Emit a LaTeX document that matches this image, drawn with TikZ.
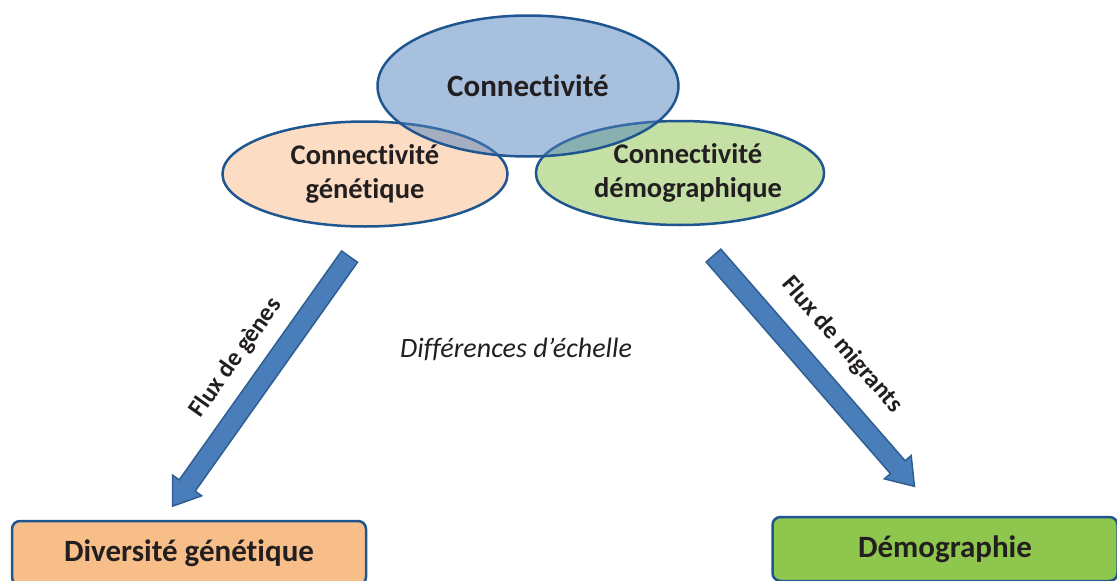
\documentclass[tikz,border=0pt]{standalone}
\usepackage{fontspec}
\setmainfont{Carlito}[Ligatures=NoCommon]
\usetikzlibrary{shapes.geometric, shapes.arrows}
\definecolor{CBorder}{HTML}{1F5690}
\definecolor{CText}{HTML}{231F20}
\definecolor{CBlue}{HTML}{4F81BD}
\definecolor{CPeach}{HTML}{FCDDC4}
\definecolor{CGreenLight}{HTML}{C5E0A5}
\definecolor{COrange}{HTML}{F8BE8A}
\definecolor{CGreen}{HTML}{8FC64E}
\definecolor{CArrow}{HTML}{4A7EBB}
\definecolor{CArrowLine}{HTML}{2E5E92}
\newcommand{\fsBig}{\fontsize{31}{36}\selectfont}
\newcommand{\fsMid}{\fontsize{28.5}{34}\selectfont}
\newcommand{\fsSmall}{\fontsize{25}{30}\selectfont}

\begin{document}
\begin{tikzpicture}[x=1pt, y=-1pt,
    every node/.style={text=CText},
    bubble/.style={ellipse, draw=CBorder, line width=2.5pt, font=\bfseries\fsMid, align=center, inner sep=0pt},
    result/.style={rectangle, rounded corners=8pt, draw=CBorder, line width=2.5pt, font=\bfseries\fsBig, inner sep=0pt},
    flowarrow/.style={single arrow, draw=CArrowLine, fill=CArrow, line width=1.5pt, inner sep=0pt, inner ysep=9pt, single arrow head extend=8pt, single arrow tip angle=70, minimum height=306pt},
    flowlabel/.style={font=\bfseries\fsSmall}]
    \useasboundingbox (0,0) rectangle (1117,581);
    \clip (0,0) rectangle (1117,581);

    % Connectivité génétique / démographique
    \node[bubble, fill=CPeach, minimum width=285pt, minimum height=105pt] (genConn) at (365,174) {Connectivité\\génétique};
    \node[bubble, fill=CGreenLight, minimum width=284pt, minimum height=104pt] (demoConn) at (680,173) {\hspace*{16pt}Connectivité\\\hspace*{16pt}démographique};

    % Connectivité (see-through, on top)
    \node[bubble, fill=CBlue, fill opacity=0.5, text opacity=1, font=\bfseries\fsBig, minimum width=301pt, minimum height=141pt] (conn) at (528,86) {Connectivité};

    % Flux de gènes
    \coordinate (gTail) at (350,256);
    \node[flowarrow, anchor=tail, rotate=234.65] (gArrow) at (gTail) {};
    \node[flowlabel, rotate=54.6] (gLabel) at (236,358) {Flux de gènes};

    % Flux de migrants
    \coordinate (mTail) at (713,255);
    \node[flowarrow, anchor=tail, rotate=-48.95] (mArrow) at (mTail) {};
    \node[flowlabel, rotate=-49] (mLabel) at (842,345) {Flux de migrants};

    \node[font=\itshape\fontsize{28}{32}\selectfont] (scale) at (516,349) {Différences d’échelle};

    % Diversité / Démographie
    \node[result, fill=COrange, minimum width=354pt, minimum height=64pt] (divGen) at (189,553) {Diversité génétique};
    \node[result, fill=CGreen, minimum width=345pt, minimum height=64pt] (demo) at (945,549) {Démographie};
\end{tikzpicture}
\end{document}
